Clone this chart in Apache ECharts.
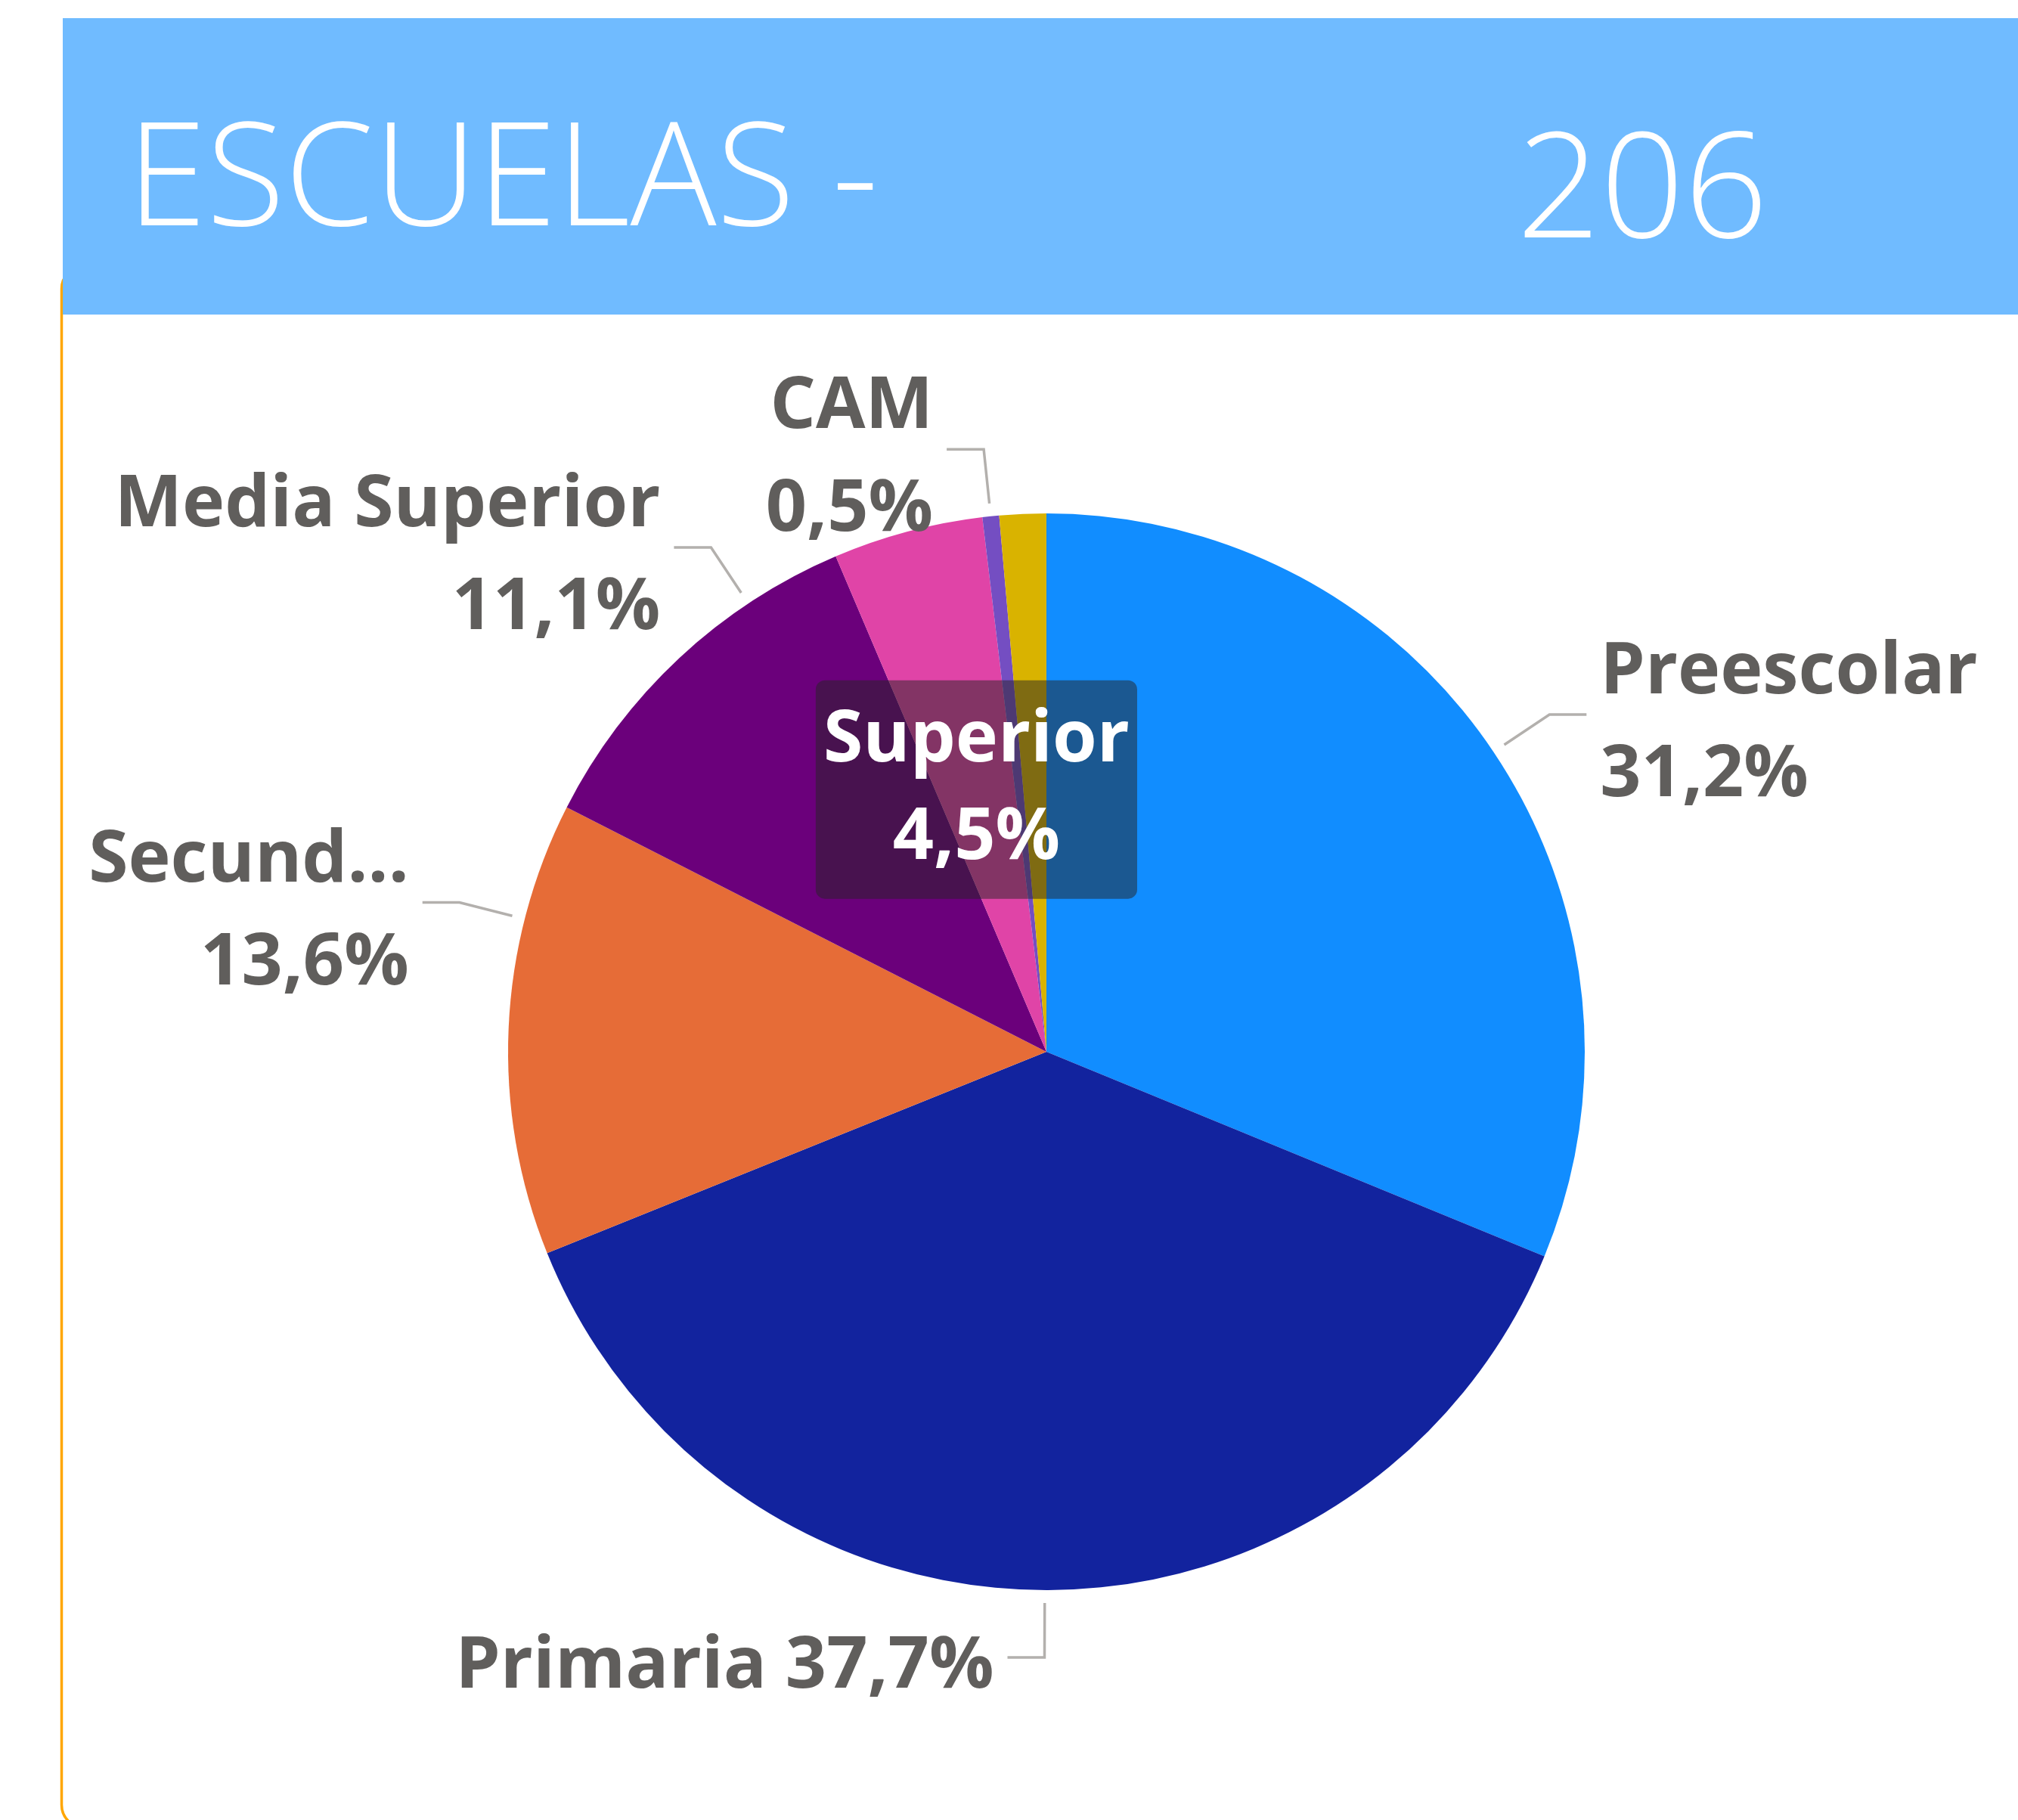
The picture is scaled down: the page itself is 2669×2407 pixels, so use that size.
<!DOCTYPE html>
<html>
<head>
<meta charset="utf-8">
<script src="https://cdn.jsdelivr.net/npm/echarts@6/dist/echarts.min.js"></script>
<style>
  html, body { margin: 0; padding: 0; background: #ffffff; }
  #chart { width: 2669px; height: 2407px; }
</style>
</head>
<body>
<div id="chart"></div>
<script>
// datos del gráfico (porcentajes por nivel)
const niveles = ['Preescolar', 'Primaria', 'Secundaria', 'Media Superior', 'Superior', 'CAM', 'Otros'];
const porcentajes = [31.2, 37.7, 13.6, 11.1, 4.5, 0.5, 1.4];
const colores = ['#118DFF', '#12239E', '#E66C37', '#6B007B', '#E044A7', '#744EC2', '#D9B300'];
const tituloTexto = 'ESCUELAS -';
const totalEscuelas = '206';

// geometría del pastel
const CX = 1384, CY = 1391, R = 712;
const GAP = 17, LARGO = 89, PLANO = 49, SEP = 18;
// punto de anclaje de la guía dentro de cada rebanada (0 = inicio, 1 = fin)
const anclaje = [0.5, 0.5, 0.74, 0.735, 0.5, 0.5, 0.5];

const total = porcentajes.reduce((a, b) => a + b, 0);
const inicio = [];
porcentajes.reduce((acc, v) => { inicio.push(acc); return acc + v; }, 0);

const fmt = (p) => p.toFixed(1).replace('.', ',') + '%';

const chart = echarts.init(document.getElementById('chart'), null, { renderer: 'canvas' });

const etiquetaBase = {
    show: true,
    position: 'outside',
    color: '#605E5C',
    fontFamily: '"Open Sans", "Noto Sans", sans-serif',
    fontWeight: 'bold',
    fontSize: 95,
    lineHeight: 136,
    overflow: 'none',
    formatter: (p) => p.name + '\n' + fmt(p.percent)
};

const datos = niveles.map((n, i) => {
    const item = { name: n, value: porcentajes[i], itemStyle: { color: colores[i] } };
    if (n === 'Primaria') {
        item.label = { formatter: (p) => p.name + ' ' + fmt(p.percent) };
    }
    if (n === 'Secundaria') {
        item.label = { width: 430, overflow: 'truncate', ellipsis: '...' };
    }
    if (n === 'Superior') {
        item.label = {
            position: 'inside',
            color: '#ffffff',
            lineHeight: 129,
            backgroundColor: 'rgba(37,36,35,0.5)',
            borderRadius: 12,
            padding: [30, 10, 1, 10]
        };
        item.labelLine = { show: false };
    }
    if (n === 'Otros') {
        item.label = { show: false };
        item.labelLine = { show: false };
    }
    return item;
});

chart.setOption({
    animation: false,
    backgroundColor: '#ffffff',
    graphic: [
        {
            type: 'rect', z: 1,
            shape: { x: 81.5, y: 352, width: 2700, height: 2065, r: 30 },
            style: { fill: 'none', stroke: '#FFA600', lineWidth: 3.5 }
        },
        {
            type: 'rect', z: 2,
            shape: { x: 83, y: 24, width: 2586, height: 392 },
            style: { fill: '#70BBFF' }
        },
        {
            type: 'text', z: 3, x: 168, y: 244,
            style: {
                text: tituloTexto, fill: '#ffffff',
                font: '300 190px "Open Sans", sans-serif',
                verticalAlign: 'middle', align: 'left'
            }
        },
        {
            type: 'text', z: 3, x: 2006, y: 259,
            style: {
                text: totalEscuelas, fill: '#ffffff',
                font: '300 194px "Open Sans", sans-serif',
                verticalAlign: 'middle', align: 'left'
            }
        }
    ],
    series: [{
        type: 'pie',
        center: [CX, CY],
        radius: [0, R],
        startAngle: 90,
        clockwise: true,
        avoidLabelOverlap: false,
        label: etiquetaBase,
        labelLine: { show: true, lineStyle: { color: '#B3B0AD', width: 3.5 } },
        labelLayout: (params) => {
            const i = params.dataIndex;
            if (niveles[i] === 'Superior' || niveles[i] === 'Otros') return {};
            const a0 = inicio[i] / total * 360;
            const a1 = (inicio[i] + porcentajes[i]) / total * 360;
            const ang = (a0 + (a1 - a0) * anclaje[i]) * Math.PI / 180;
            const sx = Math.sin(ang), sy = -Math.cos(ang);
            const izq = sx < 0;
            const p0 = [CX + sx * (R + GAP), CY + sy * (R + GAP)];
            const p1 = [CX + sx * (R + LARGO), CY + sy * (R + LARGO)];
            const p2 = [p1[0] + (izq ? -PLANO : PLANO), p1[1]];
            return {
                x: p2[0] + (izq ? -SEP : SEP),
                y: p2[1] + 13,
                align: izq ? 'right' : 'left',
                verticalAlign: 'middle',
                labelLinePoints: [p0, p1, p2]
            };
        },
        data: datos
    }]
});
</script>
</body>
</html>
